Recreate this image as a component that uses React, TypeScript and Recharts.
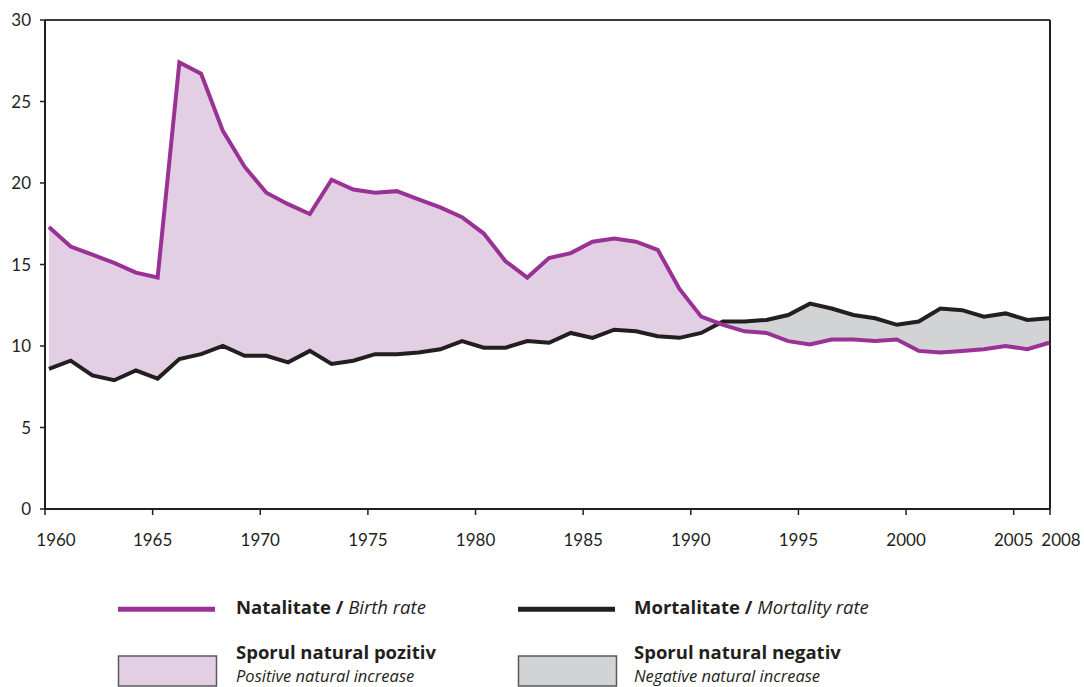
import { ComposedChart, Area, Line, XAxis, YAxis, ReferenceLine } from 'recharts';

// one point per year
const years = [
  1961, 1962, 1963, 1964, 1965, 1966, 1967, 1968, 1969, 1970, 1971, 1972,
  1973, 1974, 1975, 1976, 1977, 1978, 1979, 1980, 1981, 1982, 1983, 1984,
  1985, 1986, 1987, 1988, 1989, 1990, 1991, 1992, 1993, 1994, 1995, 1996,
  1997, 1998, 1999, 2000, 2001, 2002, 2003, 2004, 2005, 2006, 2007,
];

const birthRate = [
  17.3, 16.1, 15.6, 15.1, 14.5, 14.2, 27.4, 26.7, 23.2, 21.0, 19.4, 18.7,
  18.1, 20.2, 19.6, 19.4, 19.5, 19.0, 18.5, 17.9, 16.9, 15.2, 14.2, 15.4,
  15.7, 16.4, 16.6, 16.4, 15.9, 13.5, 11.8, 11.3, 10.9, 10.8, 10.3, 10.1,
  10.4, 10.4, 10.3, 10.4, 9.7, 9.6, 9.7, 9.8, 10.0, 9.8, 10.2,
];

const deathRate = [
  8.6, 9.1, 8.2, 7.9, 8.5, 8.0, 9.2, 9.5, 10.0, 9.4, 9.4, 9.0,
  9.7, 8.9, 9.1, 9.5, 9.5, 9.6, 9.8, 10.3, 9.9, 9.9, 10.3, 10.2,
  10.8, 10.5, 11.0, 10.9, 10.6, 10.5, 10.8, 11.5, 11.5, 11.6, 11.9, 12.6,
  12.3, 11.9, 11.7, 11.3, 11.5, 12.3, 12.2, 11.8, 12.0, 11.6, 11.7,
];

const yTicks = [0, 5, 10, 15, 20, 25, 30];
const xTickLabels = ['1960', '1965', '1970', '1975', '1980', '1985', '1990', '1995', '2000', '2005', '2008'];

const PURPLE = '#9a3296';
const PINK = '#e2cfe3';
const GREY = '#d1d3d4';
const INK = '#231f20';
const FONT = 'Lato, "Open Sans", sans-serif';
const LEGEND_FONT = '"Open Sans", Lato, sans-serif';

// the printed axis is not quite on the yearly grid: labels step a bit slower than the data
const X_START = 1960.82;
const X_END = 2007.04;
const TICK_STEP = 0.99;
const xTicks = xTickLabels.map((l, i) =>
  i === xTickLabels.length - 1 ? X_END : X_START + (Number(l) - 1960) * TICK_STEP
);

const data = years.map((year, i) => {
  const b = birthRate[i];
  const d = deathRate[i];
  return {
    year,
    birth: b,
    death: d,
    positive: [d, Math.max(b, d)],
    negative: [b, Math.max(b, d)],
  };
});

function XTick(props: any) {
  const { x, y, payload, index } = props;
  const last = xTickLabels.length - 1;
  const nudge = index === 0 || index === last ? 11 : 0;
  return (
    <text x={x + nudge} y={y} dy="0.71em" textAnchor="middle" fill={INK} fontSize={17} fontFamily={FONT}>
      {xTickLabels[index] ?? payload.value}
    </text>
  );
}

function Legend() {
  const bold = { fontWeight: 700 };
  const ital = { fontStyle: 'italic' as const };
  return (
    <svg width={1084} height={127} style={{ position: 'absolute', left: 0, top: 560 }}>
      <g fontFamily={LEGEND_FONT} fontSize={18.5} fill={INK}>
        <line x1={118} x2={215} y1={49.3} y2={49.3} stroke={PURPLE} strokeWidth={5} />
        <text x={236} y={54}>
          <tspan style={bold}>Natalitate / </tspan>
          <tspan style={ital}>Birth rate</tspan>
        </text>

        <line x1={518} x2={615} y1={49.3} y2={49.3} stroke={INK} strokeWidth={5} />
        <text x={634} y={54}>
          <tspan style={bold}>Mortalitate / </tspan>
          <tspan style={ital}>Mortality rate</tspan>
        </text>

        <rect x={118.5} y={96} width={98} height={30} fill={PINK} stroke="#58595b" strokeWidth={1.5} />
        <text x={236} y={99} style={bold}>Sporul natural pozitiv</text>
        <text x={236} y={121.5} fontSize={16.5} style={ital}>Positive natural increase</text>

        <rect x={518.5} y={96} width={98} height={30} fill={GREY} stroke="#58595b" strokeWidth={1.5} />
        <text x={634} y={99} style={bold}>Sporul natural negativ</text>
        <text x={634} y={121.5} fontSize={16.5} style={ital}>Negative natural increase</text>
      </g>
    </svg>
  );
}

export default function App() {
  return (
    <div style={{ position: 'absolute', left: 0, top: 0, width: 1084, height: 687, overflow: 'hidden', background: '#fff' }}>
      <ComposedChart width={1084} height={560} data={data} margin={{ top: 20, right: 34, bottom: 21, left: 0 }}>
        <XAxis
          dataKey="year"
          type="number"
          domain={[X_START, X_END]}
          ticks={xTicks}
          interval={0}
          height={30}
          tickSize={6}
          tickMargin={19}
          axisLine={{ stroke: INK, strokeWidth: 2 }}
          tickLine={{ stroke: INK, strokeWidth: 1.5 }}
          tick={<XTick />}
        />
        <YAxis
          domain={[0, 30]}
          ticks={yTicks}
          interval={0}
          width={45}
          tickSize={5}
          tickMargin={9}
          axisLine={{ stroke: INK, strokeWidth: 2 }}
          tickLine={{ stroke: INK, strokeWidth: 1.5 }}
          tick={{ fill: INK, fontSize: 17, fontFamily: FONT }}
        />
        <Area dataKey="positive" stroke="none" fill={PINK} fillOpacity={1} isAnimationActive={false} />
        <Area dataKey="negative" stroke="none" fill={GREY} fillOpacity={1} isAnimationActive={false} />
        <ReferenceLine y={30} stroke="#3a3a3a" strokeWidth={2} />
        <ReferenceLine x={X_END} stroke={INK} strokeWidth={2} />
        <Line dataKey="death" stroke={INK} strokeWidth={4} dot={false} isAnimationActive={false} />
        <Line dataKey="birth" stroke={PURPLE} strokeWidth={4} dot={false} isAnimationActive={false} />
      </ComposedChart>
      <Legend />
    </div>
  );
}
